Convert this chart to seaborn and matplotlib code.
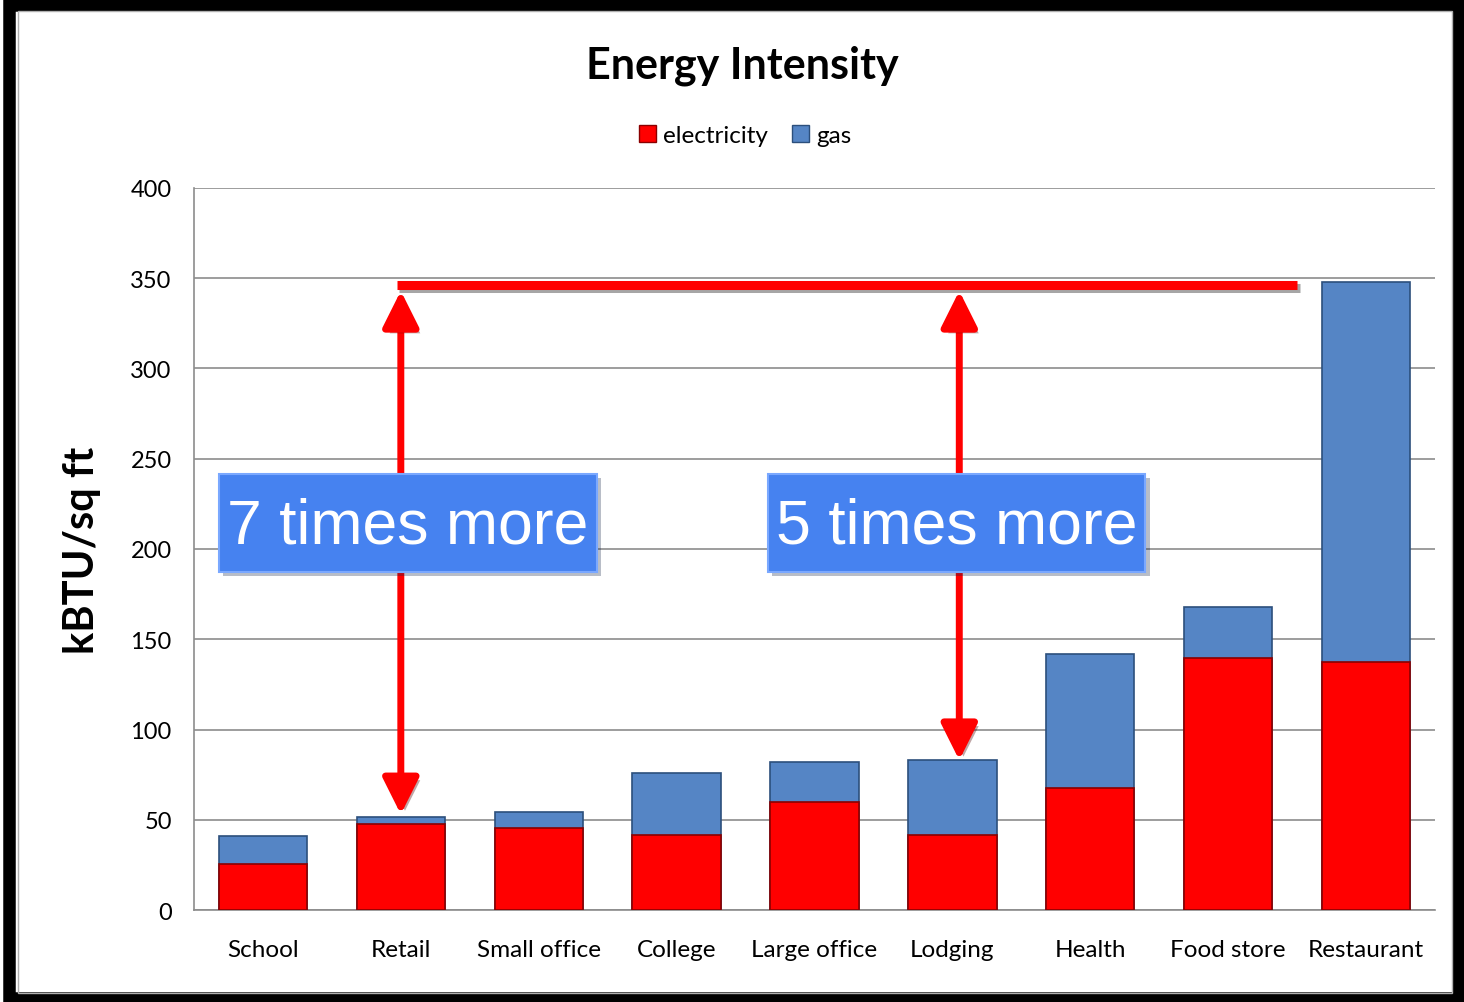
import matplotlib
matplotlib.use("Agg")
import matplotlib.pyplot as plt
import matplotlib.patheffects as pe
from matplotlib.patches import Patch, Rectangle
import seaborn as sns
import pandas as pd

# data
categories = ["School", "Retail", "Small office", "College", "Large office",
              "Lodging", "Health", "Food store", "Restaurant"]
electricity = [25.5, 47.5, 45.5, 41.5, 60, 41.5, 67.5, 139.5, 137.5]
gas = [15.5, 4, 9, 34.5, 22, 41.5, 74.5, 28.5, 210.5]
y_ticks = [0, 50, 100, 150, 200, 250, 300, 350, 400]

RED = "#FF0000"
BLUE = "#5585C5"

df = pd.DataFrame({"category": categories, "electricity": electricity, "gas": gas})
df["total"] = df["electricity"] + df["gas"]

sns.set_style("white")
plt.rcParams["font.family"] = ["Lato", "DejaVu Sans"]
plt.rcParams["text.color"] = "black"
plt.rcParams["axes.labelcolor"] = "black"
plt.rcParams["xtick.color"] = "black"
plt.rcParams["ytick.color"] = "black"

fig = plt.figure(figsize=(14.64, 10.03), dpi=100)
ax = fig.add_axes([0.1325, 0.0917, 0.8477, 0.7199])

# stacked bars: total (gas on top) first, electricity over it
sns.barplot(data=df, x="category", y="total", color=BLUE, saturation=1,
            width=0.64, edgecolor="#2c4f7c", linewidth=1.2, ax=ax, zorder=3)
sns.barplot(data=df, x="category", y="electricity", color=RED, saturation=1,
            width=0.64, edgecolor="#8a0000", linewidth=1.2, ax=ax, zorder=4)

ax.set_xlim(-0.5, 8.5)
ax.set_ylim(0, 400)
ax.set_yticks(y_ticks)
ax.set_yticklabels([str(t) for t in y_ticks], fontsize=17)
ax.tick_params(axis="y", length=4, color="#888888", pad=12)
ax.tick_params(axis="x", length=0, pad=21, labelsize=17.5)
ax.yaxis.grid(True, color="#8c8c8c", linewidth=1.2, zorder=0)
ax.set_axisbelow(True)
for s in ["top", "right"]:
    ax.spines[s].set_visible(False)
for s in ["left", "bottom"]:
    ax.spines[s].set_color("#8c8c8c")
    ax.spines[s].set_linewidth(1.2)
ax.set_xlabel("")
ax.set_ylabel("kBTU/sq ft", fontsize=30, fontweight="bold")
ax.yaxis.set_label_coords(-0.075, 0.5)

# title and legend
fig.text(0.507, 0.934, "Energy Intensity", ha="center", va="center",
         fontsize=31, fontweight="bold")
handles = [Patch(facecolor=RED, edgecolor="#8a0000"), Patch(facecolor=BLUE, edgecolor="#2c4f7c")]
fig.legend(handles, ["electricity", "gas"], loc="center", bbox_to_anchor=(0.509, 0.864),
           ncol=2, frameon=False, fontsize=17.5, handlelength=0.7, handleheight=0.7,
           handletextpad=0.3, columnspacing=1.0)

# annotation: reference line at restaurant level and the two arrows
shadow = [pe.SimpleLineShadow(offset=(2, -2), alpha=0.35), pe.Normal()]
ax.plot([0.97, 7.5], [346, 346], color=RED, lw=6.5, solid_capstyle="butt",
        zorder=6, path_effects=shadow)
arrow_kw = dict(arrowstyle="<|-|>,head_length=1.1,head_width=0.55", color=RED,
                lw=5, shrinkA=0, shrinkB=0, mutation_scale=20)
a1 = ax.annotate("", xy=(1, 53), xytext=(1, 343), arrowprops=arrow_kw, zorder=6)
a2 = ax.annotate("", xy=(5.05, 83), xytext=(5.05, 343), arrowprops=arrow_kw, zorder=6)
for a in (a1, a2):
    a.arrow_patch.set_path_effects([pe.SimplePatchShadow(offset=(3, -3), alpha=0.35), pe.Normal()])

# blue callout boxes
box_w, box_h = 2.74, 54
for xc, label in [(1.05, "7 times more"), (5.03, "5 times more")]:
    r = Rectangle((xc - box_w / 2, 214.5 - box_h / 2), box_w, box_h, facecolor="#4682F0",
                  edgecolor="#7aa8ff", linewidth=1.5, zorder=8)
    r.set_path_effects([pe.SimplePatchShadow(offset=(3, -3), alpha=0.3), pe.Normal()])
    ax.add_patch(r)
    ax.text(xc, 213, label, ha="center", va="center", fontsize=45, color="white",
            family=["Liberation Sans", "DejaVu Sans"], zorder=9)

# outer frame like the slide screenshot
fig.patches.append(Rectangle((0.006, 0.004), 0.99, 0.99, transform=fig.transFigure,
                             fill=False, edgecolor="black", linewidth=9, zorder=10))
fig.patches.append(Rectangle((0.012, 0.009), 0.98, 0.979, transform=fig.transFigure,
                             fill=False, edgecolor="#b0b0b0", linewidth=1, zorder=10))

fig.savefig("out.png", dpi=100)
